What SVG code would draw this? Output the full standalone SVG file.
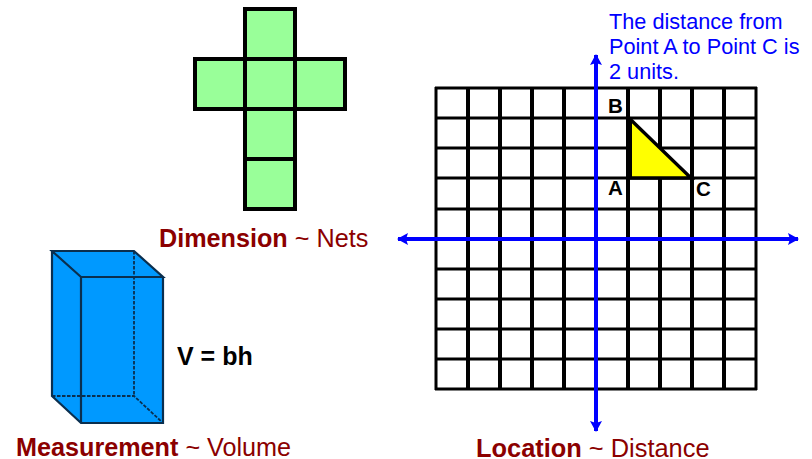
<svg xmlns="http://www.w3.org/2000/svg" width="812" height="459" viewBox="0 0 812 459">
<style>
text{font-family:"Liberation Sans",Arial,sans-serif;font-size:25.2px}
.t{fill:#8b0000;font-weight:bold}
.n{fill:#8b0000;font-weight:normal}
.b{fill:#0000ff;font-size:21.7px}
.l{fill:#000;font-weight:bold;font-size:20.5px}
.net{fill:#99ff99;stroke:#000;stroke-width:4}
.g{stroke:#000;fill:none}
.e{fill:none;stroke:#0a2f4f;stroke-width:2.2}
.d{fill:none;stroke:#0a2f4f;stroke-width:1.8;stroke-dasharray:3.5 1.5}
.ax{stroke:#0000ff;stroke-width:4;fill:none}
</style>
<defs>
<marker id="ah" markerUnits="userSpaceOnUse" markerWidth="12" markerHeight="12" refX="10" refY="6" orient="auto-start-reverse"><path d="M0 0L11 6L0 12L2 6Z" fill="#0000ff"/></marker>
</defs>
<g id="net">
<rect class="net" x="245" y="9" width="50" height="50"/>
<rect class="net" x="195" y="59" width="50" height="50"/>
<rect class="net" x="245" y="59" width="50" height="50"/>
<rect class="net" x="295" y="59" width="50" height="50"/>
<rect class="net" x="245" y="109" width="50" height="50"/>
<rect class="net" x="245" y="159" width="50" height="50"/>
</g>
<g id="prism">
<path d="M52 251H134L163 277V423H81L52 396Z" fill="#0099ff"/>
<path class="e" d="M52 251H134L163 277H81ZM52 251V396L81 423H163V277M81 277V423"/>
<path class="d" d="M134 251V396M52 396H134L163 423"/>
</g>
<g id="grid">
<path class="g" stroke-width="3" d="M435 88H757M435 118H757M435 148H757M435 178H757M435 209H757M435 239H757M435 269H757M435 299H757M435 329H757M435 359H757M435 389H757"/>
<path class="g" stroke-width="3" d="M436 87V390M756 87V390"/>
<path class="g" stroke-width="4" d="M468 87V390M500 87V390M532 87V390M564 87V390M596 87V390M628 87V390M660 87V390M692 87V390M724 87V390"/>
</g>
<g id="triangle">
<path d="M630 119L691 178H630Z" fill="#ffff00" stroke="#000" stroke-width="3.4"/>
<path d="M630 118V179" stroke="#000" stroke-width="4" fill="none"/>
</g>
<g id="axes">
<path class="ax" marker-start="url(#ah)" marker-end="url(#ah)" d="M398 239H798"/>
<path class="ax" marker-start="url(#ah)" marker-end="url(#ah)" d="M596 55V431"/>
</g>
<g id="labels">
<text x="159" y="247" class="t">Dimension <tspan class="n">~ Nets</tspan></text>
<text x="16" y="456" class="t">Measurement <tspan class="n">~ Volume</tspan></text>
<text x="476" y="457" class="t" style="font-size:25.4px">Location <tspan class="n">~ Distance</tspan></text>
<text x="177" y="365" font-weight="bold" style="font-size:25px">V = bh</text>
<text class="b" x="609" y="29">The distance from</text>
<text class="b" x="609" y="54">Point A to Point C is</text>
<text class="b" x="609" y="79">2 units.</text>
<text class="l" x="608" y="113">B</text>
<text class="l" x="608" y="195">A</text>
<text class="l" x="696" y="196">C</text>
</g>
</svg>
